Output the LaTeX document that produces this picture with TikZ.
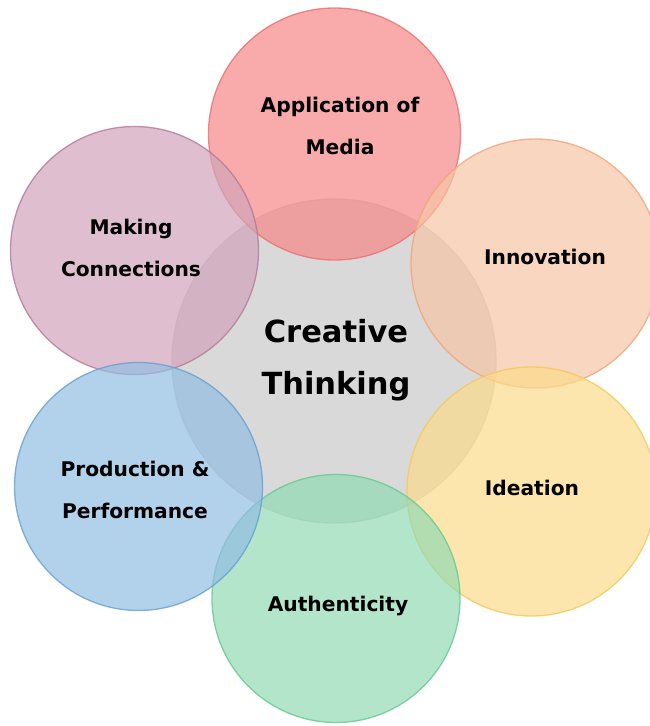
\documentclass[tikz,border=0pt]{standalone}
\usepackage{fontspec}
\setmainfont{DejaVu Sans}
\definecolor{cred}{RGB}{246,135,135}
\definecolor{cgray}{RGB}{201,201,201}
\definecolor{cmauve}{RGB}{209,164,186}
\definecolor{corange}{RGB}{245,196,165}
\definecolor{cyellow}{RGB}{252,219,138}
\definecolor{cgreen}{RGB}{145,218,179}
\definecolor{cblue}{RGB}{146,189,225}
\definecolor{bred}{RGB}{236,110,110}
\definecolor{bgray}{RGB}{200,200,200}
\definecolor{bmauve}{RGB}{180,120,150}
\definecolor{borange}{RGB}{238,165,120}
\definecolor{byellow}{RGB}{244,200,90}
\definecolor{bgreen}{RGB}{100,200,145}
\definecolor{bblue}{RGB}{100,160,210}
\tikzset{
  petal/.style={circle, minimum size=#1, inner sep=0pt, line width=1.3pt, fill opacity=0.7, draw opacity=0.8},
  lbl/.style={align=center, font=\bfseries\fontsize{20.2}{42}\selectfont, text=black},
  biglbl/.style={align=center, font=\bfseries\fontsize{30.5}{52}\selectfont, text=black}
}
\begin{document}
\begin{tikzpicture}[x=1pt,y=-1pt]
\useasboundingbox (0,0) rectangle (650,726);
\clip (0,0) rectangle (650,726);
\node[petal=324pt, fill=cgray, draw=bgray] (center) at (334,361) {};
\node[petal=252pt, fill=cred, draw=bred] (media) at (334.5,134) {};
\node[petal=248pt, fill=cmauve, draw=bmauve] (conn) at (134.5,250.5) {};
\node[petal=249pt, fill=corange, draw=borange] (innov) at (535.5,263.5) {};
\node[petal=249pt, fill=cyellow, draw=byellow] (idea) at (531.5,491.5) {};
\node[petal=248pt, fill=cgreen, draw=bgreen] (auth) at (336,598.5) {};
\node[petal=248pt, fill=cblue, draw=bblue] (prod) at (138.5,486.5) {};
\node[biglbl] (tcenter) at (336,360) {Creative\\Thinking};
\node[lbl] (tmedia) at (340,126) {Application of\\Media};
\node[lbl] (tconn) at (131,248) {Making\\Connections};
\node[lbl] (tinnov) at (545,257) {Innovation};
\node[lbl] (tidea) at (532,488) {Ideation};
\node[lbl] (tauth) at (338,606) {Authenticity};
\node[lbl] (tprod) at (135,490) {Production \&\\Performance};
\end{tikzpicture}
\end{document}
